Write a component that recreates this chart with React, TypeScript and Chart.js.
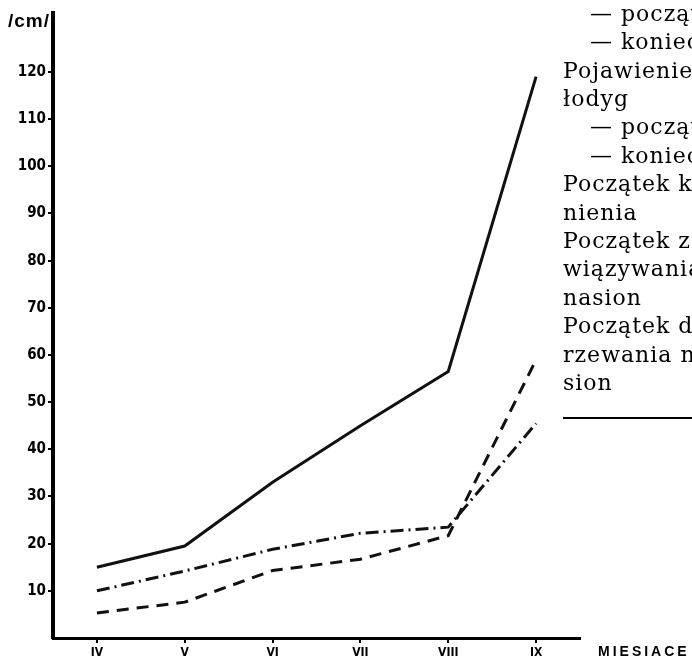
import { useEffect, useRef } from "react";
import { Chart, registerables } from "chart.js";

Chart.register(...registerables);

const months = ["IV", "V", "VI", "VII", "VIII", "IX"];
const heightSolid = [15, 19.5, 33, 45, 56.5, 119];
const heightDashDot = [10, 14.2, 18.8, 22.2, 23.5, 45.5];
const heightDashed = [5.3, 7.6, 14.3, 16.7, 21.7, 59];
const yTickValues = [10, 20, 30, 40, 50, 60, 70, 80, 90, 100, 110, 120];
const yUnit = "/cm/";
const xTitle = "MIESIACE";
const noteLines = [
  "— początek",
  "— koniec",
  "Pojawienie się",
  "łodyg",
  "— początek",
  "— koniec",
  "Początek kwit-",
  "nienia",
  "Początek za-",
  "wiązywania",
  "nasion",
  "Początek doj-",
  "rzewania na-",
  "sion",
];

const textPlugin = {
  id: "textPlugin",
  afterDraw(chart: any) {
    const ctx = chart.ctx as CanvasRenderingContext2D;
    ctx.save();
    ctx.fillStyle = "#000";
    ctx.strokeStyle = "#000";
    // unit label
    ctx.font = 'bold 19px "Liberation Sans", sans-serif';
    (ctx as any).letterSpacing = "1px";
    ctx.textBaseline = "middle";
    ctx.textAlign = "left";
    ctx.fillText(yUnit, 8, 22);
    // x title
    ctx.font = 'bold 14px "Liberation Sans", sans-serif';
    (ctx as any).letterSpacing = "3px";
    ctx.fillText(xTitle, 598, 652);
    // note column
    ctx.font = '22px "DejaVu Serif", serif';
    (ctx as any).letterSpacing = "1px";
    noteLines.forEach((line, i) => {
      const indent = line.startsWith("—") ? 590 : 563;
      ctx.fillText(line, indent, 15 + i * 28.4);
    });
    (ctx as any).letterSpacing = "0px";
    ctx.lineWidth = 2;
    ctx.beginPath();
    ctx.moveTo(563, 418);
    ctx.lineTo(692, 418);
    ctx.stroke();
    ctx.restore();
  },
};

export default function App() {
  const ref = useRef<HTMLCanvasElement | null>(null);

  useEffect(() => {
    document.body.style.margin = "0";
    const canvas = ref.current;
    if (!canvas) return;
    const common = {
      borderColor: "#111",
      borderWidth: 3,
      pointRadius: 0,
      tension: 0,
      fill: false,
      borderCapStyle: "butt" as const,
    };
    const chart = new Chart(canvas, {
      type: "line",
      data: {
        labels: months,
        datasets: [
          { ...common, label: "solid", data: heightSolid },
          { ...common, label: "dashdot", data: heightDashDot, borderDash: [13, 5, 2, 5] },
          { ...common, label: "dashed", data: heightDashed, borderDash: [12, 8] },
        ],
      },
      options: {
        responsive: false,
        animation: false,
        devicePixelRatio: 1,
        layout: { padding: { top: 13, right: 112, left: 0, bottom: 0 } },
        plugins: { legend: { display: false }, tooltip: { enabled: false } },
        scales: {
          x: {
            type: "category",
            offset: true,
            grid: {
              drawOnChartArea: false,
              offset: false,
              tickLength: 5,
              color: "#000",
              lineWidth: 2,
            },
            border: { display: true, color: "#000", width: 3 },
            ticks: {
              color: "#000",
              padding: 3,
              font: { family: '"Liberation Sans Narrow", "DejaVu Sans Condensed", sans-serif', size: 12, weight: "bold" },
              maxRotation: 0,
            },
            afterFit(scale: any) {
              scale.height = 28;
            },
          },
          y: {
            type: "linear",
            min: 0,
            max: 132.5,
            grid: {
              drawOnChartArea: false,
              tickLength: 5,
              color: "#000",
              lineWidth: 2,
            },
            border: { display: true, color: "#000", width: 4 },
            ticks: {
              color: "#000",
              padding: 2,
              font: { family: '"Liberation Sans Narrow", "DejaVu Sans Condensed", sans-serif', size: 15, weight: "bold" },
            },
            afterBuildTicks(scale: any) {
              scale.ticks = yTickValues.map((v) => ({ value: v }));
            },
            afterFit(scale: any) {
              scale.width = 53;
            },
          },
        },
      },
      plugins: [textPlugin],
    });
    return () => chart.destroy();
  }, []);

  return (
    <div style={{ width: 692, height: 666, background: "#fff" }}>
      <canvas ref={ref} width={692} height={666} style={{ display: "block" }} />
    </div>
  );
}
